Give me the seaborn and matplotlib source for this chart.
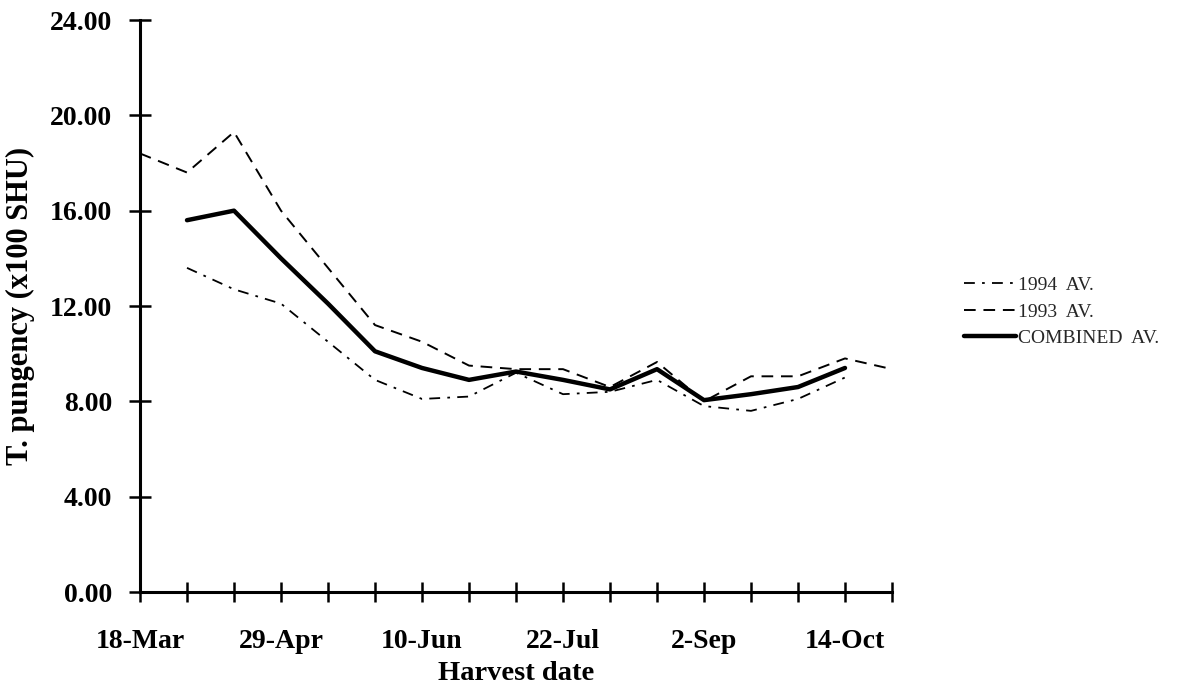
import matplotlib
matplotlib.use("Agg")
import matplotlib.pyplot as plt
import numpy as np
import pandas as pd
import seaborn as sns

# Harvest dates: fortnightly from 18 March
start_date = "1994-03-18"
n_dates = 17
tick_labels = ["18-Mar", "29-Apr", "10-Jun", "22-Jul", "2-Sep", "14-Oct"]

# Average total pungency (x100 SHU)
av_1993 = [18.4, 17.6, 19.3, 16.0, 13.6, 11.2, 10.5, 9.5, 9.35, 9.35,
           8.6, 9.65, 8.0, 9.05, 9.05, 9.8, 9.35]
av_1994 = [np.nan, 13.6, 12.7, 12.1, 10.5, 8.9, 8.1, 8.2, 9.2, 8.3,
           8.4, 8.9, 7.8, 7.6, 8.1, 9.0, np.nan]
av_combined = [np.nan, 15.6, 16.0, 14.0, 12.1, 10.1, 9.4, 8.9, 9.25, 8.9,
               8.5, 9.35, 8.05, 8.3, 8.6, 9.4, np.nan]

dates = pd.date_range(start_date, periods=n_dates, freq="14D")
df = pd.DataFrame({"date": dates, "1994": av_1994, "1993": av_1993,
                   "combined": av_combined})

sns.set_style("white")
plt.rcParams["font.family"] = ["Liberation Serif", "DejaVu Serif"]

fig = plt.figure(figsize=(11.82, 6.93), dpi=100)
ax = fig.add_axes([140 / 1182, 101 / 693, 752 / 1182, 572 / 693])

sns.lineplot(data=df, x="date", y="1994", ax=ax, color="black",
             linewidth=1.3, linestyle=(0, (6, 4, 1.5, 4)), label="1994  AV.")
sns.lineplot(data=df, x="date", y="1993", ax=ax, color="black",
             linewidth=1.4, linestyle=(0, (6, 4)), label="1993  AV.")
sns.lineplot(data=df, x="date", y="combined", ax=ax, color="black",
             linewidth=3.2, linestyle="-", label="COMBINED  AV.")

ax.set_xlim(dates[0], dates[-1])
ax.set_ylim(0, 24)
yt = np.arange(0, 24.1, 4)
ax.set_yticks(yt)
ax.set_yticklabels([f"{v:.2f}" for v in yt])
ax.set_xticks(dates)
ax.set_xticklabels([tick_labels[i // 3] if i % 3 == 0 else ""
                    for i in range(n_dates)])

for side in ["top", "right"]:
    ax.spines[side].set_visible(False)
for side in ["left", "bottom"]:
    ax.spines[side].set_color("black")
    ax.spines[side].set_linewidth(2.2)

ax.tick_params(axis="y", left=True, direction="inout", length=16, width=1.8,
               pad=12, labelsize=20, colors="black")
ax.tick_params(axis="x", bottom=True, direction="inout", length=14, width=1.8,
               pad=20, labelsize=20, colors="black")
for lbl in ax.get_xticklabels() + ax.get_yticklabels():
    lbl.set_fontweight("bold")

ax.set_xlabel("Harvest date", fontsize=20.5, fontweight="bold", labelpad=5,
              color="black")
ax.set_ylabel("T. pungency (x100 SHU)", fontsize=22, fontweight="bold",
              color="black")
ax.yaxis.set_label_coords(-0.139, 0.5)

ax.legend(loc="upper left", bbox_to_anchor=(1.085, 0.565), frameon=False,
          fontsize=14, handlelength=2.7, handletextpad=0.1,
          labelspacing=0.45, borderaxespad=0)

fig.savefig("out.png", dpi=100, facecolor="white")
